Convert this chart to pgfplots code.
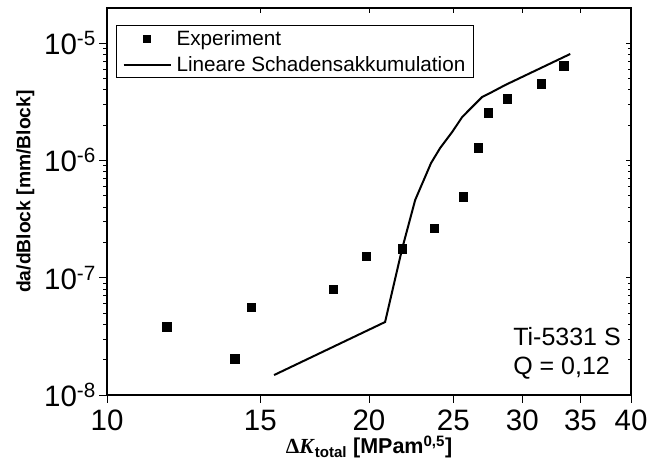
\documentclass[border=0pt]{standalone}
\usepackage{fontspec}
\setmainfont{Liberation Sans}
\newfontfamily\tnr{Liberation Serif}
\usepackage{pgfplots}
\pgfplotsset{compat=1.18}

\begin{document}
\begin{tikzpicture}
\begin{axis}[
    xmode=log, ymode=log,
    scale only axis, width=524bp, height=387bp,
    xmin=10, xmax=40, ymin=1e-8, ymax=1.99e-5,
    xtick={10,15,20,25,30,35,40},
    minor xtick={},
    ytick={1e-8,1e-7,1e-6,1e-5},
    axis line style={line width=1.3bp},
    major tick length=8bp, minor tick length=4bp,
    tick style={black, line width=0.9bp},
    at={(0,0)}, anchor=south west,
    xtick pos=bottom, ytick pos=left, tick align=outside,
    xticklabels={10,15,20,25,30,35,40},
    yticklabels={10\textsuperscript{-8},10\textsuperscript{-7},10\textsuperscript{-6},10\textsuperscript{-5}},
    tick label style={font=\fontsize{29.5bp}{34bp}\selectfont},
    xticklabel style={inner sep=2bp, yshift=-5bp},
    yticklabel style={inner sep=3bp},
    xlabel={{\tnr\bfseries Δ\textit{K}}\textbf{\textsubscript{total} [MPam\textsuperscript{0,5}]}},
    ylabel={\textbf{da/dBlock [mm/Block]}},
    ylabel style={font=\fontsize{19.3bp}{23bp}\selectfont,
      at={(axis description cs:-0.1317,0.526)}, anchor=south},
    xlabel style={font=\fontsize{21.5bp}{25bp}\selectfont,
      at={(axis description cs:0.5,-0.152)}, anchor=base},
    legend style={at={(0.0172,0.955)}, anchor=north west, draw=black, line width=1bp,
      font=\fontsize{20.7bp}{23bp}\selectfont, inner xsep=6bp, inner ysep=3bp,
      row sep=5bp, column sep=3bp},
    legend cell align=left,
  ]
  \addplot[only marks, mark=square*, mark size=4.3bp, black,
    legend image code/.code={\draw[mark=square*, mark size=3.5bp, black] plot coordinates {(23.5bp,0bp)};}]
    coordinates {
      (11.72,3.8e-8)
      (14.03,2.03e-8)
      (14.64,5.6e-8)
      (18.19,8.0e-8)
      (19.85,1.53e-7)
      (21.83,1.76e-7)
      (23.77,2.65e-7)
      (25.66,4.9e-7)
      (26.70,1.28e-6)
      (27.40,2.54e-6)
      (28.83,3.34e-6)
      (31.55,4.48e-6)
      (33.50,6.38e-6)
    };
  \addlegendentry{Experiment}
  \addplot[black, line width=2bp, mark=none,
    legend image code/.code={\draw[black, line width=2bp] (0bp,0bp) -- (47bp,0bp);}]
    coordinates {
      (15.56,1.48e-8)
      (20.87,4.19e-8)
      (21.83,1.76e-7)
      (22.60,4.6e-7)
      (23.57,9.5e-7)
      (24.15,1.28e-6)
      (24.93,1.75e-6)
      (25.59,2.34e-6)
      (26.27,2.85e-6)
      (26.98,3.47e-6)
      (27.70,3.83e-6)
      (28.68,4.39e-6)
      (34.06,8.07e-6)
    };
  \addlegendentry{Lineare Schadensakkumulation}
  \node[anchor=base west, inner sep=0pt, font=\fontsize{25bp}{29bp}\selectfont]
    at (rel axis cs:0.775,0.129) {Ti-5331 S};
  \node[anchor=base west, inner sep=0pt, font=\fontsize{25bp}{29bp}\selectfont]
    at (rel axis cs:0.775,0.052) {Q = 0,12};
\end{axis}
\begin{axis}[
    xmode=log, ymode=log,
    scale only axis, width=524bp, height=387bp,
    xmin=10, xmax=40, ymin=1e-8, ymax=1.99e-5,
    xtick={10,15,20,25,30,35,40},
    minor xtick={},
    ytick={1e-8,1e-7,1e-6,1e-5},
    axis line style={line width=1.3bp},
    tick style={black, line width=0.9bp},
    at={(0,0)}, anchor=south west,
    xtick pos=top, ytick pos=right, tick align=inside,
    xticklabels={}, yticklabels={},
    major tick length=5bp, minor tick length=3bp,
  ]
\end{axis}
\pgfresetboundingbox
\path (-107bp,-75bp) rectangle (543bp,395bp);
\end{tikzpicture}
\end{document}
